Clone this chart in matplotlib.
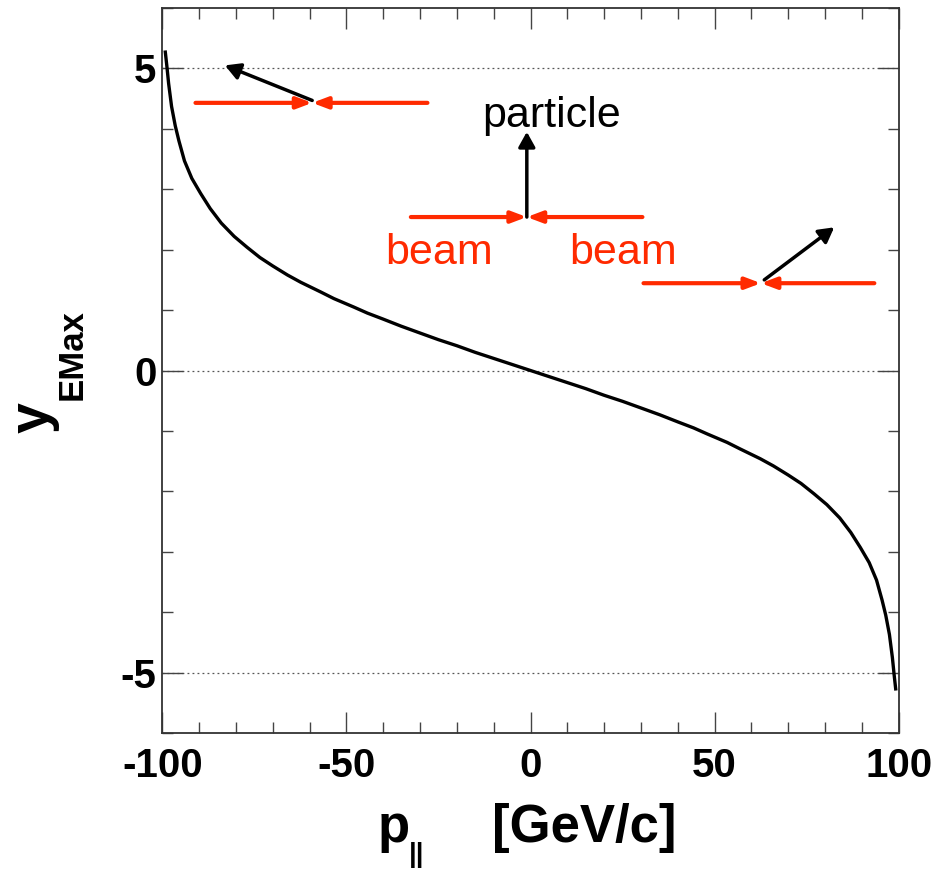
import numpy as np
import matplotlib
matplotlib.use("Agg")
import matplotlib.pyplot as plt
from matplotlib.ticker import MultipleLocator

plt.rcParams['font.family'] = ['Liberation Sans', 'DejaVu Sans']

# curve
p_par = [-99.2, -98.8, -98.3, -97.5, -96.5, -95.5, -94, -92, -89.6, -87, -84,
         -80.5, -77, -73.5, -70, -66, -62.4, -57, -53.4, -48, -44.3, -40, -35.2,
         -30, -25, -20, -15, -10, -5, 0, 5, 10, 15, 20, 25, 30, 35.2, 40, 44.3,
         48, 53.4, 57, 62.4, 66, 70, 73.5, 77, 80.5, 84, 87, 89.6, 92, 94, 95.5,
         96.5, 97.5, 98.3, 98.8, 99.2]
y_emax = [5.27, 5.05, 4.75, 4.37, 4.05, 3.80, 3.47, 3.18, 2.93, 2.68, 2.44,
          2.22, 2.04, 1.87, 1.73, 1.58, 1.46, 1.3, 1.19, 1.05, 0.95, 0.85, 0.735,
          0.62, 0.51, 0.41, 0.3, 0.2, 0.1, 0, -0.1, -0.2, -0.3, -0.41, -0.51,
          -0.62, -0.735, -0.85, -0.95, -1.05, -1.19, -1.3, -1.46, -1.58, -1.73,
          -1.87, -2.04, -2.22, -2.44, -2.68, -2.93, -3.18, -3.47, -3.80, -4.05,
          -4.37, -4.75, -5.05, -5.27]

x_ticks = [-100, -50, 0, 50, 100]
y_ticks = [-5, 0, 5]

# sketch: beams (red) meeting at a point, particle going out (black)
beam_y = [4.43, 2.54, 1.445]
beam_left = [-91, -32.5, 30.7]
beam_right = [-28, 30.4, 93.4]
beam_mid = [-59.3, -1.0, 62.6]
part_start = [(-59.3, 4.47), (-1.0, 2.54), (63.5, 1.50)]
part_end = [(-83, 5.05), (-1.0, 3.95), (82.5, 2.37)]

red = '#ff2a00'

fig = plt.figure(figsize=(9.47, 8.69), dpi=100)
ax = fig.add_axes([162/947, 1 - 733/869, (899-162)/947, (733-8)/869])

ax.plot(p_par, y_emax, color='black', lw=2.4, zorder=3, solid_joinstyle='round')

for yy in y_ticks:
    ax.axhline(yy, color='#555555', lw=0.9, ls=(0, (1.5, 2.5)), zorder=1)

for i in range(3):
    for xe in (beam_left[i], beam_right[i]):
        ax.annotate('', xy=(beam_mid[i], beam_y[i]), xytext=(xe, beam_y[i]),
                    arrowprops=dict(arrowstyle='-|>,head_length=0.45,head_width=0.17',
                                    color=red, lw=3, shrinkA=0, shrinkB=0,
                                    mutation_scale=20), zorder=4)
    ax.annotate('', xy=part_end[i], xytext=part_start[i],
                arrowprops=dict(arrowstyle='-|>,head_length=0.45,head_width=0.25',
                                color='black', lw=2.5, shrinkA=0, shrinkB=0,
                                mutation_scale=20), zorder=5)

ax.text(5.7, 4.03, 'particle', fontsize=31, ha='center', va='baseline', color='black')
ax.text(-24.9, 1.77, 'beam', fontsize=31, ha='center', va='baseline', color=red)
ax.text(25.2, 1.77, 'beam', fontsize=31, ha='center', va='baseline', color=red)

ax.set_xlim(-100.1, 100.1)
ax.set_ylim(-6, 6)
ax.set_xticks(x_ticks)
ax.set_yticks(y_ticks)
ax.set_xticklabels([str(v) for v in x_ticks])
ax.set_yticklabels([str(v) for v in y_ticks])
ax.xaxis.set_minor_locator(MultipleLocator(10))
ax.yaxis.set_minor_locator(MultipleLocator(1))
ax.tick_params(which='both', direction='in', top=True, right=True, color='#444444', width=1.0)
ax.tick_params(which='major', length=15)
ax.tick_params(which='minor', length=8)
ax.tick_params(axis='x', which='major', pad=10, labelsize=29)
ax.tick_params(axis='y', which='major', pad=4, labelsize=29)
for lab in ax.get_xticklabels() + ax.get_yticklabels():
    lab.set_fontweight('bold')
for s in ax.spines.values():
    s.set_linewidth(1.3)
    s.set_color('#333333')

# axis titles
fig.text(378/947, 1 - 842/869, 'p', fontsize=38, fontweight='bold', ha='left', va='baseline')
fig.text(409/947, 1 - 862/869, '||', fontsize=20, fontweight='bold', ha='left', va='baseline')
fig.text(492/947, 1 - 842/869, '[GeV/c]', fontsize=38, fontweight='bold', ha='left', va='baseline')
fig.text(48/947, 1 - 433/869, 'y', fontsize=40, fontweight='bold', rotation=90,
         rotation_mode='anchor', ha='left', va='baseline')
fig.text(82/947, 1 - 400/869, 'EMax', fontsize=25, fontweight='bold', rotation=90,
         rotation_mode='anchor', ha='left', va='baseline')

fig.savefig('out.png', dpi=100)
